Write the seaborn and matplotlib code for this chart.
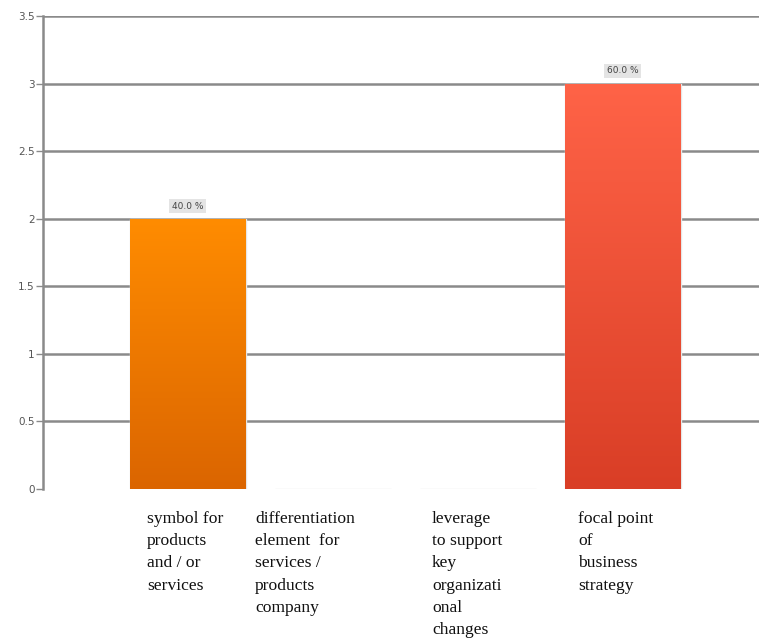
import numpy as np
import pandas as pd
import matplotlib
matplotlib.use("Agg")
import matplotlib.pyplot as plt
import seaborn as sns
from matplotlib.colors import LinearSegmentedColormap

# chart data
categories = ["symbol", "differentiation", "leverage", "focal"]
counts = [2, 0, 0, 3]
percent_labels = ["40.0 %", "", "", "60.0 %"]
tick_labels = [
    "symbol for\nproducts\nand / or\nservices",
    "differentiation\nelement  for\nservices /\nproducts\ncompany",
    "leverage\nto support\nkey\norganizati\nonal\nchanges",
    "focal point\nof\nbusiness\nstrategy",
]
# gradient colours per bar (top, bottom)
top_colors = ["#FF8C00", "#FF8C00", "#FF6347", "#FF6347"]
bottom_colors = ["#DB6500", "#DB6500", "#D93E26", "#D93E26"]

df = pd.DataFrame({"category": categories, "count": counts})

sns.set_style("white")
fig = plt.figure(figsize=(7.59, 6.41), dpi=100)
W, H = 759, 641
ax = fig.add_axes([43 / W, 1 - 489 / H, (W - 43) / W, (489 - 16) / H])

sns.barplot(data=df, x="category", y="count", ax=ax, width=0.8,
            color="#ffffff", edgecolor="#e6e6e6", linewidth=1, zorder=3)

# gradient fill clipped to each bar
for i, patch in enumerate(ax.patches):
    h = patch.get_height()
    if h <= 0:
        continue
    x0 = patch.get_x()
    x1 = x0 + patch.get_width()
    cmap = LinearSegmentedColormap.from_list("g", [bottom_colors[i], top_colors[i]])
    grad = np.linspace(0, 1, 256).reshape(-1, 1)
    im = ax.imshow(grad, extent=[x0, x1, 0, h], origin="lower", aspect="auto",
                   cmap=cmap, zorder=4)
    im.set_clip_path(patch)
    ax.text(x0 + patch.get_width() / 2, h + 0.06, percent_labels[i],
            ha="center", va="bottom", fontsize=6.5, color="#444444", zorder=5,
            bbox=dict(boxstyle="square,pad=0.3", fc="#e4e4e4", ec="none"))

ax.set_xlim(-1.0, 3.94)
ax.set_ylim(0, 3.5)
ax.set_yticks(np.arange(0, 3.51, 0.5))
ax.set_yticklabels(["0", "0.5", "1", "1.5", "2", "2.5", "3", "3.5"])
ax.grid(axis="y", color="#8a8a8a", linewidth=1.8, zorder=0)
ax.set_axisbelow(True)
ax.yaxis.get_gridlines()[0].set_visible(False)
ax.tick_params(axis="y", length=5, width=1, color="#8a8a8a", labelsize=7.5,
               labelcolor="#555555", pad=1, left=True)
ax.set_xticks([])
ax.set_xlabel("")
ax.set_ylabel("")
for side in ["top", "right", "bottom"]:
    ax.spines[side].set_visible(False)
ax.spines["left"].set_color("#8a8a8a")
ax.spines["left"].set_linewidth(1.8)

# category labels below chart, left aligned
label_x = [147, 255, 432, 578]
for x, lab in zip(label_x, tick_labels):
    fig.text(x / W, 1 - 511 / H, lab, ha="left", va="top",
             family="Liberation Serif", fontsize=12.6, linespacing=1.52,
             color="#111111")

fig.savefig("out.png", dpi=100)
